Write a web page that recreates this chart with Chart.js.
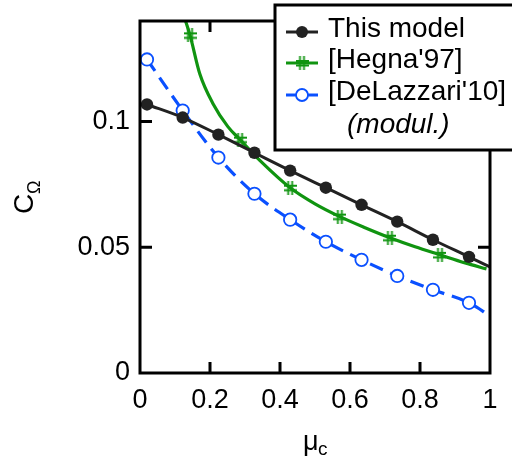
<!DOCTYPE html>
<html>
<head>
<meta charset="utf-8">
<script src="https://cdn.jsdelivr.net/npm/chart.js@4"></script>
<style>
  body { margin: 0; background: #fff; }
  canvas { display: block; }
</style>
</head>
<body>
<canvas id="chart" width="512" height="456"></canvas>
<script>
// values
const xTicks = [0, 0.2, 0.4, 0.6, 0.8, 1];
const yTicks = [0, 0.05, 0.1];

const modelX = [0.02, 0.122, 0.224, 0.327, 0.429, 0.531, 0.633, 0.735, 0.837, 0.94, 1.0];
const modelY = [0.1068, 0.1016, 0.0948, 0.0876, 0.0805, 0.0737, 0.0669, 0.0602, 0.0530, 0.0462, 0.0422];

const hegnaLineX = [0.123, 0.143, 0.171, 0.209, 0.251, 0.286, 0.343, 0.429, 0.5, 0.571, 0.643, 0.714, 0.786, 0.857, 0.929, 0.99];
const hegnaLineY = [0.143, 0.1343, 0.1189, 0.1070, 0.0980, 0.0928, 0.0845, 0.0737, 0.0673, 0.0622, 0.0578, 0.0538, 0.0502, 0.0470, 0.0438, 0.0414];
const hegnaMarkX = [0.143, 0.286, 0.429, 0.571, 0.714, 0.857];
const hegnaMarkY = [0.1343, 0.0928, 0.0737, 0.0622, 0.0538, 0.0470];

const lazX = [0.02, 0.122, 0.224, 0.327, 0.429, 0.531, 0.633, 0.735, 0.837, 0.94, 1.0];
const lazY = [0.1247, 0.1044, 0.0857, 0.0713, 0.0610, 0.0522, 0.0450, 0.0386, 0.0331, 0.0279, 0.0227];

const BLACK = "#222222";
const GREEN = "#109410";
const BLUE = "#0a50ff";
const FONT = "'Liberation Sans', Arial, sans-serif";

function pts(xs, ys) {
    return xs.map((x, i) => ({ x: x, y: ys[i] }));
}

// "#" shaped marker for the Hegna series
function makeHash() {
    const c = document.createElement("canvas");
    c.width = 13;
    c.height = 14;
    const g = c.getContext("2d");
    g.strokeStyle = GREEN;
    g.lineWidth = 1.8;
    g.beginPath();
    g.moveTo(4.5, 0); g.lineTo(4.5, 14);
    g.moveTo(8.5, 0); g.lineTo(8.5, 14);
    g.moveTo(0, 5); g.lineTo(13, 5);
    g.moveTo(0, 9.5); g.lineTo(13, 9.5);
    g.stroke();
    return c;
}
const hash = makeHash();

// no marker on the end point at x = 1
const markerRadius = ctx => (ctx.raw && ctx.raw.x >= 1 ? 0 : 6.2);

const framePlugin = {
    id: "frame",
    afterDraw(chart) {
        const ctx = chart.ctx;
        const a = chart.chartArea;
        const xs = chart.scales.x;
        const ys = chart.scales.y;
        ctx.save();
        ctx.strokeStyle = "#000";
        ctx.lineWidth = 3;
        ctx.strokeRect(a.left, a.top, a.right - a.left, a.bottom - a.top);

        // inward ticks
        ctx.beginPath();
        xTicks.slice(1, -1).forEach(v => {
            const px = xs.getPixelForValue(v);
            ctx.moveTo(px, a.bottom); ctx.lineTo(px, a.bottom - 11);
            ctx.moveTo(px, a.top); ctx.lineTo(px, a.top + 11);
        });
        yTicks.slice(1).forEach(v => {
            const py = ys.getPixelForValue(v);
            ctx.moveTo(a.left, py); ctx.lineTo(a.left + 12, py);
            ctx.moveTo(a.right, py); ctx.lineTo(a.right - 12, py);
        });
        ctx.stroke();

        // axis titles
        ctx.fillStyle = "#000";
        ctx.textBaseline = "alphabetic";
        ctx.textAlign = "left";
        ctx.font = "27px " + FONT;
        ctx.fillText("\u03bc", 303, 450);
        ctx.font = "19px " + FONT;
        ctx.fillText("c", 318, 455);

        ctx.save();
        ctx.translate(33, 214);
        ctx.rotate(-Math.PI / 2);
        ctx.font = "28px " + FONT;
        ctx.fillText("C", 0, 0);
        ctx.font = "18px " + FONT;
        ctx.fillText("\u03a9", 20, 7);
        ctx.restore();

        // legend box
        ctx.fillStyle = "#fff";
        ctx.fillRect(275, 5, 245, 145);
        ctx.lineWidth = 3;
        ctx.strokeStyle = "#000";
        ctx.strokeRect(275, 5, 245, 145);

        const rows = [
            { label: "This model", color: BLACK, y: 32, kind: "dot" },
            { label: "[Hegna'97]", color: GREEN, y: 63, kind: "hash" },
            { label: "[DeLazzari'10]", color: BLUE, y: 95, kind: "ring" }
        ];
        rows.forEach(r => {
            ctx.strokeStyle = r.color;
            ctx.lineWidth = 3;
            ctx.beginPath();
            ctx.moveTo(286, r.y); ctx.lineTo(318, r.y);
            ctx.stroke();
            if (r.kind === "dot") {
                ctx.fillStyle = r.color;
                ctx.beginPath(); ctx.arc(302, r.y, 6, 0, Math.PI * 2); ctx.fill();
            } else if (r.kind === "hash") {
                ctx.drawImage(hash, 302 - 6.5, r.y - 7);
            } else {
                ctx.fillStyle = "#fff";
                ctx.lineWidth = 1.8;
                ctx.beginPath(); ctx.arc(302, r.y, 6, 0, Math.PI * 2); ctx.fill(); ctx.stroke();
            }
            ctx.fillStyle = "#000";
            ctx.font = "28px " + FONT;
            ctx.fillText(r.label, 328, r.y + 5);
        });
        ctx.font = "italic 28px " + FONT;
        ctx.fillText("(modul.)", 347, 133);
        ctx.restore();
    }
};

const chart = new Chart(document.getElementById("chart"), {
    type: "line",
    data: {
        datasets: [
            {
                label: "This model",
                data: pts(modelX, modelY),
                borderColor: BLACK,
                backgroundColor: BLACK,
                borderWidth: 3,
                pointRadius: markerRadius,
                pointBorderWidth: 0,
                cubicInterpolationMode: "monotone"
            },
            {
                label: "[Hegna'97] markers",
                data: pts(hegnaMarkX, hegnaMarkY),
                showLine: false,
                pointStyle: hash,
                pointRadius: 7
            },
            {
                label: "[Hegna'97]",
                data: pts(hegnaLineX, hegnaLineY),
                borderColor: GREEN,
                borderWidth: 3.2,
                pointRadius: 0,
                cubicInterpolationMode: "monotone"
            },
            {
                label: "[DeLazzari'10]",
                data: pts(lazX, lazY),
                borderColor: BLUE,
                backgroundColor: "#fff",
                borderWidth: 3.2,
                borderDash: [14, 8],
                pointRadius: markerRadius,
                pointBorderWidth: 1.8,
                cubicInterpolationMode: "monotone"
            }
        ]
    },
    options: {
        responsive: false,
        animation: false,
        devicePixelRatio: 1,
        layout: { padding: { top: 21, right: 22, left: 0, bottom: 0 } },
        plugins: {
            legend: { display: false },
            tooltip: { enabled: false }
        },
        scales: {
            x: {
                type: "linear",
                min: 0,
                max: 1,
                afterBuildTicks: s => { s.ticks = xTicks.map(v => ({ value: v })); },
                afterFit: s => { s.height = 83; s.paddingLeft = 0; s.paddingRight = 0; },
                grid: { display: false, drawTicks: false },
                border: { display: false },
                ticks: {
                    padding: 11,
                    maxRotation: 0,
                    color: "#000",
                    font: { family: FONT, size: 27 },
                    callback: v => String(v)
                }
            },
            y: {
                type: "linear",
                min: 0,
                max: 0.14,
                afterBuildTicks: s => { s.ticks = yTicks.map(v => ({ value: v })); },
                afterFit: s => { s.width = 140; s.paddingTop = 0; s.paddingBottom = 0; },
                grid: { display: false, drawTicks: false },
                border: { display: false },
                ticks: {
                    padding: 10,
                    color: "#000",
                    font: { family: FONT, size: 27 },
                    callback: v => String(v)
                }
            }
        }
    },
    plugins: [framePlugin]
});
</script>
</body>
</html>
